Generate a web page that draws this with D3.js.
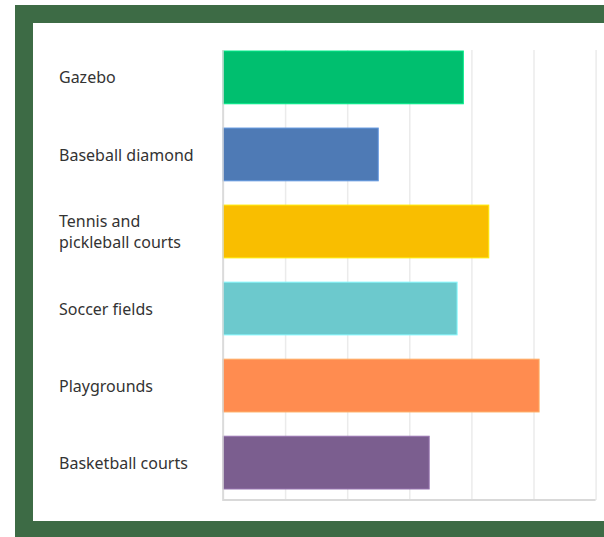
<!DOCTYPE html>
<html>
<head>
<meta charset="utf-8">
<script src="https://cdn.jsdelivr.net/npm/d3@7"></script>
<style>
  html, body { margin: 0; padding: 0; background: #ffffff; }
  svg { display: block; }
</style>
</head>
<body>
<svg id="chart" width="604" height="537"></svg>
<script>
// ---- data ----
const categories = ["Gazebo", "Baseball diamond", "Tennis and\npickleball courts", "Soccer fields", "Playgrounds", "Basketball courts"];
const values = [3.87, 2.50, 4.28, 3.77, 5.09, 3.32];
const barColors = ["#00BF6F", "#4E7AB5", "#F9BE00", "#6CC9CD", "#FF8C50", "#7B5E8F"];
const tickValues = [0, 1, 2, 3, 4, 5, 6];

const svg = d3.select("#chart");
const W = 604, H = 537;

// frame
svg.append("rect").attr("x", 15).attr("y", 5).attr("width", W - 15).attr("height", H - 5).attr("fill", "#3D6B45");
svg.append("rect").attr("x", 33).attr("y", 23).attr("width", W - 33).attr("height", 521 - 23).attr("fill", "#ffffff");

const x0 = 223, x1 = 595.6, gTop = 50, gBottom = 500;
const x = d3.scaleLinear().domain([0, 6]).range([x0, x1]);
const y = d3.scaleBand().domain(categories).range([51, 489]).paddingInner(0.315).paddingOuter(0);

// gridlines
const grid = svg.append("g")
  .attr("transform", `translate(0,${gBottom})`)
  .call(d3.axisBottom(x).tickValues(tickValues).tickSize(-(gBottom - gTop)).tickFormat(""));
grid.select(".domain").remove();
grid.selectAll(".tick line").attr("stroke", "#ebebeb").attr("stroke-width", 1.5);

// bars
svg.append("g").selectAll("rect").data(categories).join("rect")
  .attr("x", x(0))
  .attr("y", d => y(d))
  .attr("width", (d, i) => x(values[i]) - x(0))
  .attr("height", y.bandwidth())
  .attr("fill", (d, i) => barColors[i])
  .attr("stroke", (d, i) => d3.color(barColors[i]).brighter(0.6))
  .attr("stroke-width", 1);

// axis lines
svg.append("line").attr("x1", x0).attr("x2", x0).attr("y1", gTop).attr("y2", gBottom + 1)
  .attr("stroke", "#d6d6d6").attr("stroke-width", 1.5);
svg.append("line").attr("x1", x0).attr("x2", x1).attr("y1", gBottom).attr("y2", gBottom)
  .attr("stroke", "#d9d9d9").attr("stroke-width", 2);

// labels
const labels = svg.append("g").selectAll("text").data(categories).join("text")
  .attr("x", 59)
  .attr("font-family", "'Noto Sans', sans-serif")
  .attr("font-size", 16)
  .attr("fill", "#333333");
labels.each(function(d) {
  const lines = d.split("\n");
  const cy = y(d) + y.bandwidth() / 2;
  const lh = 21;
  const t = d3.select(this);
  lines.forEach((ln, k) => {
    t.append("tspan").attr("x", 59)
      .attr("y", cy + (k - (lines.length - 1) / 2) * lh)
      .attr("dy", "0.38em")
      .text(ln);
  });
});
</script>
</body>
</html>
